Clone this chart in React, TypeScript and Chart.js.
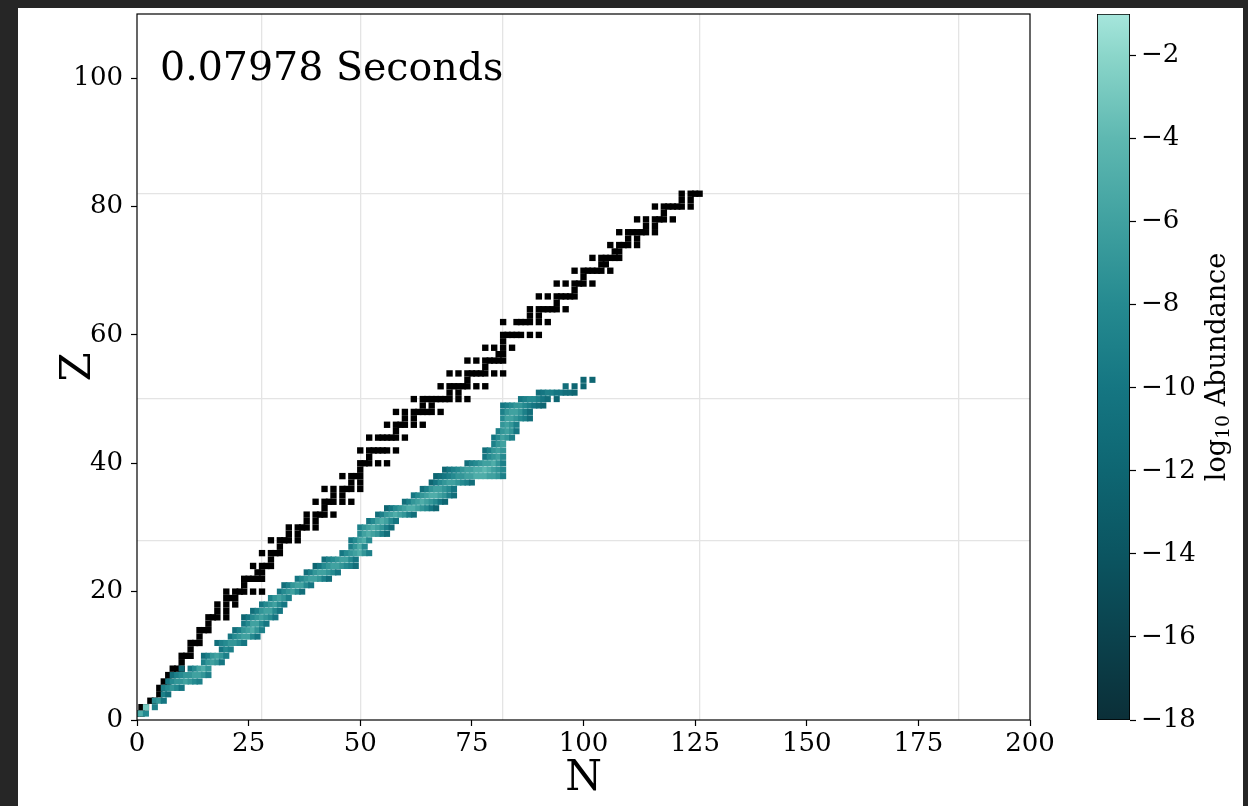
import React, { useEffect, useRef } from 'react';
import { Chart, registerables } from 'chart.js';
Chart.register(...registerables);

const FONT = "'DejaVu Serif', serif";
const TIME_LABEL = '0.07978 Seconds';
const X_LABEL = 'N';
const Y_LABEL = 'Z';
const X_TICKS = [0, 25, 50, 75, 100, 125, 150, 175, 200];
const Y_TICKS = [0, 20, 40, 60, 80, 100];
const X_RANGE = [0, 200];
const Y_RANGE = [0, 110];
const MAGIC_N = [28, 50, 82, 126, 184];
const MAGIC_Z = [28, 50, 82];
const CB_TICKS = [-2, -4, -6, -8, -10, -12, -14, -16, -18];
const CB_RANGE = [-18, -1];

// colormap stops (log10 abundance -> colour)
const CMAP_VALUES = [-18, -16, -14, -12, -10, -8, -6, -4, -2, -1];
const CMAP_COLORS = ['#0b2f38', '#0b424d', '#0b5561', '#0e6672', '#157682', '#258a90', '#40a1a0', '#5eb8b1', '#8bd6ca', '#a6e6dc'];

// stable nuclides: proton number and neutron numbers
const STABLE_Z = [1, 2, 3, 4, 5, 6, 7, 8, 9, 10, 11, 12, 13, 14, 15, 16, 17, 18, 19, 20, 21, 22, 23, 24, 25, 26, 27, 28, 29, 30, 31, 32, 33, 34, 35, 36, 37, 38, 39, 40, 41, 42, 44, 45, 46, 47, 48, 49, 50, 51, 52, 53, 54, 55, 56, 57, 58, 59, 60, 62, 63, 64, 65, 66, 67, 68, 69, 70, 71, 72, 73, 74, 75, 76, 77, 78, 79, 80, 81, 82];
const STABLE_N = [
  [0, 1], [1, 2], [3, 4], [5], [5, 6], [6, 7], [7, 8], [8, 9, 10], [10], [10, 11, 12],
  [12], [12, 13, 14], [14], [14, 15, 16], [16], [16, 17, 18, 20], [18, 20], [18, 20, 22], [20, 21, 22], [20, 22, 23, 24, 26, 28],
  [24], [24, 25, 26, 27, 28], [27, 28], [26, 28, 29, 30], [30], [28, 30, 31, 32], [32], [30, 32, 33, 34, 36], [34, 36], [34, 36, 37, 38, 40],
  [38, 40], [38, 40, 41, 42, 44], [42], [40, 42, 43, 44, 46, 48], [44, 46], [42, 44, 46, 47, 48, 50], [48, 50], [46, 48, 49, 50], [50], [50, 51, 52, 54, 56],
  [52], [50, 52, 53, 54, 55, 56, 58], [52, 54, 55, 56, 57, 58, 60], [58], [56, 58, 59, 60, 62, 64], [60, 62], [58, 60, 62, 63, 64, 65, 66, 68], [64, 66],
  [62, 64, 65, 66, 67, 68, 69, 70, 72, 74], [70, 72], [68, 70, 71, 72, 73, 74, 76, 78], [74], [70, 72, 74, 75, 76, 77, 78, 80, 82], [78],
  [74, 76, 78, 79, 80, 81, 82], [81, 82], [78, 80, 82, 84], [82], [82, 83, 84, 85, 86, 88, 90], [82, 85, 86, 87, 88, 90, 92], [88, 90],
  [88, 90, 91, 92, 93, 94, 96], [94], [90, 92, 94, 95, 96, 97, 98], [98], [94, 96, 98, 99, 100, 102], [100], [98, 100, 101, 102, 103, 104, 106],
  [104, 105], [102, 104, 105, 106, 107, 108], [107, 108], [106, 108, 109, 110, 112], [110, 112], [108, 110, 111, 112, 113, 114, 116], [114, 116],
  [112, 114, 116, 117, 118, 120], [118], [116, 118, 119, 120, 121, 122, 124], [122, 124], [122, 124, 125, 126],
];

// network abundances: for each Z, first N of the row and log10 abundance per N (null = absent)
const BAND_Z = [1, 2, 3, 4, 5, 6, 7, 8, 9, 10, 11, 12, 13, 14, 15, 16, 17, 18, 19, 20, 21, 22, 23, 24, 25, 26, 27, 28, 29, 30, 31, 32, 33, 34, 35, 36, 37, 38, 39, 40, 41, 42, 43, 44, 45, 46, 47, 48, 49, 50, 51, 52, 53];
const BAND_N0 = [0, 2, 4, 6, 6, 7, 8, 10, 15, 15, 19, 18, 21, 22, 24, 24, 26, 28, 30, 32, 33, 36, 38, 40, 42, 46, 48, 48, 50, 50, 52, 54, 56, 60, 62, 64, 66, 67, 69, 74, 78, 78, 80, 80, 81, 82, 82, 82, 82, 86, 90, 96, 100];
const BAND_LOG = [
  [-6, -5, -8],
  [-3, null, -9],
  [-8, -7, -10],
  [-9, -11],
  [-9, -8, -7, -8, -10],
  [-10, -8, -7, -7, -6, -7, -8, -9],
  [-11, -9, -8, -7, -7, -6, -6, -7, -9],
  [-12, null, -10, -8, -6, -5, -7],
  [-9, -7, -6, -7, -10],
  [-11, -9, -7, -6, -7, -9],
  [-10, -8, -9],
  [-11, -9, -8, -7, -7, -8, -10],
  [-10, -8, -7, -6, -6, -8, -10],
  [-11, -9, -7, -6, -5, -7, -9],
  [-10, -8, -6, -6, -8, -10],
  [-12, -10, -8, -7, -6, -7, -8, -10],
  [-11, -9, -7, -6, -6, -8, -10],
  [-10, -8, -7, -6, -8, -10],
  [-9, -7, -6, -7, -9],
  [-10, -8, -7, -6, -8, -11],
  [-11, -9, -7, -6, -6, -8, -10],
  [-10, -8, -7, -6, -6, -7, -9, -11],
  [-11, -9, -7, -6, -6, -7, -8, -10],
  [-12, -10, -8, -7, -6, -6, -7, -8, -9, -11],
  [-11, -9, -8, -7, -6, -6, -8, -10],
  [-10, -8, -7, -6, -5, -7, -9],
  [-9, -7, -5, -8],
  [-10, -8, -6, -5, -8],
  [-8, -6, -5, -6, -7, -9, -11],
  [-9, -7, -6, -5, -6, -7, -9, -11],
  [-10, -8, -6, -5, -6, -8, -10],
  [-11, -9, -7, -6, -5, -6, -7, -9, -11],
  [-12, -10, -8, -7, -6, -5, -5, -6, -7, -8, -10, -12],
  [-11, -9, -7, -6, -5, -6, -7, -8, -10, -12],
  [-10, -8, -7, -6, -5, -5, -6, -7, -9, -11],
  [-11, -9, -7, -6, -6, -7, -8, -10],
  [-12, -10, -8, -7, -6, -6, -7, -8, -9, -11],
  [-12, -11, -10, -9, -8, -7, -7, -6, -6, -5, -5, -5, -6, -6, -7, -9],
  [-12, -10, -9, -8, -7, -6, -6, -5, -5, -4, -5, -6, -7, -8],
  [-11, -9, -8, -7, -6, -6, -5, -7, -9],
  [-10, -8, -7, -6, -8],
  [-11, -9, -7, -6, -7],
  [-9, -7, -6],
  [-10, -8, -6, -7, -9],
  [-9, -7, -6, -7, -10],
  [-7, -6, -7, -9],
  [-8, -6, -6, -7, -8, -9, -11],
  [-9, -7, -6, -6, -7, -9, -11],
  [-10, -9, -8, -7, -7, -8, -9, -10, -11, -12],
  [-10, -9, -8, -8, -9, -10, -11, null, -12],
  [-11, -10, -9, -9, -10, -10, -11, -11, -12],
  [-11, null, -12, null, -12],
  [-12, null, -12],
];

function hexToRgb(h: string) {
  const n = parseInt(h.slice(1), 16);
  return [(n >> 16) & 255, (n >> 8) & 255, n & 255];
}
function cmap(v: number) {
  const vals = CMAP_VALUES;
  if (v <= vals[0]) return CMAP_COLORS[0];
  if (v >= vals[vals.length - 1]) return CMAP_COLORS[vals.length - 1];
  for (let i = 0; i < vals.length - 1; i++) {
    if (v >= vals[i] && v <= vals[i + 1]) {
      const t = (v - vals[i]) / (vals[i + 1] - vals[i]);
      const a = hexToRgb(CMAP_COLORS[i]);
      const b = hexToRgb(CMAP_COLORS[i + 1]);
      const c = a.map((x, k) => Math.round(x + (b[k] - x) * t));
      return `rgb(${c[0]},${c[1]},${c[2]})`;
    }
  }
  return CMAP_COLORS[0];
}
const minus = (v: number) => String(v).replace('-', '\u2212');

const MAIN_W = 1090;
const H = 806;
const CB_W = 158;

const noPadV = (w: number) => (s: any) => { s.width = w; s.paddingTop = 0; s.paddingBottom = 0; };
const noPadH = (h: number) => (s: any) => { s.height = h; s.paddingLeft = 0; s.paddingRight = 0; };

export default function App() {
  const mainRef = useRef<HTMLCanvasElement>(null);
  const cbRef = useRef<HTMLCanvasElement>(null);

  useEffect(() => {
    const stable = STABLE_Z.flatMap((z, i) => STABLE_N[i].map((n) => ({ x: n, y: z })));
    const band: { x: number; y: number; v: number }[] = [];
    BAND_Z.forEach((z, i) => {
      BAND_LOG[i].forEach((v, j) => {
        if (v !== null) band.push({ x: BAND_N0[i] + j, y: z, v: v as number });
      });
    });

    const tickFont = { family: FONT, size: 26 };
    const frame = {
      id: 'frame',
      afterDatasetsDraw(chart: any) {
        const { ctx, chartArea: a } = chart;
        ctx.save();
        ctx.strokeStyle = '#000';
        ctx.lineWidth = 1.2;
        ctx.strokeRect(a.left, a.top, a.right - a.left, a.bottom - a.top);
        ctx.fillStyle = '#000';
        ctx.font = `39.5px ${FONT}`;
        ctx.textBaseline = 'alphabetic';
        ctx.textAlign = 'left';
        ctx.fillText(TIME_LABEL, a.left + 23, a.top + 66);
        ctx.restore();
      },
    };

    const main = new Chart(mainRef.current!, {
      type: 'scatter',
      data: {
        datasets: [
          {
            data: band,
            pointStyle: 'rect',
            pointRadius: 4.3,
            pointBorderWidth: 0,
            pointBackgroundColor: band.map((p) => cmap(p.v)),
            order: 1,
          } as any,
          {
            data: stable,
            pointStyle: 'rect',
            pointRadius: 4.5,
            pointBorderWidth: 0,
            pointBackgroundColor: '#000',
            order: 2,
          } as any,
        ],
      },
      options: {
        animation: false,
        responsive: false,
        devicePixelRatio: 1,
        events: [],
        layout: { padding: { left: 0, top: 14, right: MAIN_W - 1030, bottom: 0 } },
        plugins: { legend: { display: false }, tooltip: { enabled: false } },
        scales: {
          x: {
            type: 'linear', position: 'bottom', min: X_RANGE[0], max: X_RANGE[1],
            afterBuildTicks: (s: any) => { s.ticks = X_TICKS.map((v) => ({ value: v })); },
            afterFit: noPadH(86),
            ticks: { font: tickFont, color: '#000', padding: 3, maxRotation: 0, autoSkip: false },
            grid: { drawOnChartArea: false, drawTicks: true, tickLength: 6, tickColor: '#000', tickWidth: 1.2 },
            border: { display: false },
            title: { display: true, text: X_LABEL, color: '#000', font: { family: FONT, size: 42 }, padding: { top: 0, bottom: 2 } },
          },
          xm: {
            type: 'linear', position: 'bottom', min: X_RANGE[0], max: X_RANGE[1],
            afterBuildTicks: (s: any) => { s.ticks = MAGIC_N.map((v) => ({ value: v })); },
            afterFit: noPadH(0),
            ticks: { display: false },
            grid: { drawOnChartArea: true, drawTicks: false, color: '#e4e4e4', lineWidth: 1.3 },
            border: { display: false },
          },
          y: {
            type: 'linear', position: 'left', min: Y_RANGE[0], max: Y_RANGE[1],
            afterBuildTicks: (s: any) => { s.ticks = Y_TICKS.map((v) => ({ value: v })); },
            afterFit: noPadV(137),
            ticks: { font: tickFont, color: '#000', padding: 8, autoSkip: false },
            grid: { drawOnChartArea: false, drawTicks: true, tickLength: 6, tickColor: '#000', tickWidth: 1.2 },
            border: { display: false },
            title: { display: true, text: Y_LABEL, color: '#000', font: { family: FONT, size: 42 }, padding: { top: 54, bottom: 0 } },
          },
          ym: {
            type: 'linear', position: 'left', min: Y_RANGE[0], max: Y_RANGE[1],
            afterBuildTicks: (s: any) => { s.ticks = MAGIC_Z.map((v) => ({ value: v })); },
            afterFit: noPadV(0),
            ticks: { display: false },
            grid: { drawOnChartArea: true, drawTicks: false, color: '#e4e4e4', lineWidth: 1.3 },
            border: { display: false },
          },
        },
      } as any,
      plugins: [frame],
    });

    const cbLabel = {
      id: 'cbLabel',
      afterDraw(chart: any) {
        const { ctx } = chart;
        ctx.save();
        ctx.translate(1218 - 1090, 367);
        ctx.rotate(-Math.PI / 2);
        ctx.fillStyle = '#000';
        ctx.textBaseline = 'middle';
        ctx.textAlign = 'left';
        const big = `27px ${FONT}`;
        const small = `19px ${FONT}`;
        ctx.font = big;
        const w1 = ctx.measureText('log').width;
        const w3 = ctx.measureText(' Abundance').width;
        ctx.font = small;
        const w2 = ctx.measureText('10').width;
        let x = -(w1 + w2 + w3) / 2;
        ctx.font = big;
        ctx.fillText('log', x, 0);
        x += w1;
        ctx.font = small;
        ctx.fillText('10', x, 6);
        x += w2;
        ctx.font = big;
        ctx.fillText(' Abundance', x, 0);
        ctx.restore();
      },
    };

    const cb = new Chart(cbRef.current!, {
      type: 'bar',
      data: {
        labels: ['cb'],
        datasets: [
          {
            data: [[CB_RANGE[0], CB_RANGE[1]]],
            barPercentage: 1,
            categoryPercentage: 1,
            borderWidth: 1.2,
            borderColor: '#000',
            borderSkipped: false,
            backgroundColor: (ctx: any) => {
              const chart = ctx.chart;
              const ys = chart.scales.y;
              if (!chart.chartArea || !ys) return CMAP_COLORS[4];
              const y0 = ys.getPixelForValue(CB_RANGE[0]);
              const y1 = ys.getPixelForValue(CB_RANGE[1]);
              const g = chart.ctx.createLinearGradient(0, y0, 0, y1);
              CMAP_VALUES.forEach((v, i) => {
                const t = (v - CB_RANGE[0]) / (CB_RANGE[1] - CB_RANGE[0]);
                g.addColorStop(Math.min(1, Math.max(0, t)), CMAP_COLORS[i]);
              });
              return g;
            },
          } as any,
        ],
      },
      options: {
        animation: false,
        responsive: false,
        devicePixelRatio: 1,
        events: [],
        layout: { padding: { left: 7, top: 14, right: 0, bottom: 86 } },
        plugins: { legend: { display: false }, tooltip: { enabled: false } },
        scales: {
          x: { display: false },
          y: {
            type: 'linear', position: 'right', min: CB_RANGE[0], max: CB_RANGE[1],
            afterBuildTicks: (s: any) => { s.ticks = CB_TICKS.map((v) => ({ value: v })); },
            afterFit: noPadV(CB_W - 40),
            ticks: { font: tickFont, color: '#000', padding: 5, autoSkip: false, callback: (v: any) => minus(Number(v)) },
            grid: { drawOnChartArea: false, drawTicks: true, tickLength: 6, tickColor: '#000', tickWidth: 1.2 },
            border: { display: false },
          },
        },
      } as any,
      plugins: [cbLabel],
    });

    return () => {
      main.destroy();
      cb.destroy();
    };
  }, []);

  return (
    <div style={{ position: 'fixed', left: 0, top: 0, width: 1248, height: H, background: '#262626', overflow: 'hidden' }}>
      <div style={{ position: 'absolute', left: 18, top: 8, width: 1225, height: H - 8, background: '#fff' }} />
      <canvas ref={mainRef} width={MAIN_W} height={H} style={{ position: 'absolute', left: 0, top: 0, width: MAIN_W, height: H }} />
      <canvas ref={cbRef} width={CB_W} height={H} style={{ position: 'absolute', left: 1090, top: 0, width: CB_W, height: H }} />
    </div>
  );
}
